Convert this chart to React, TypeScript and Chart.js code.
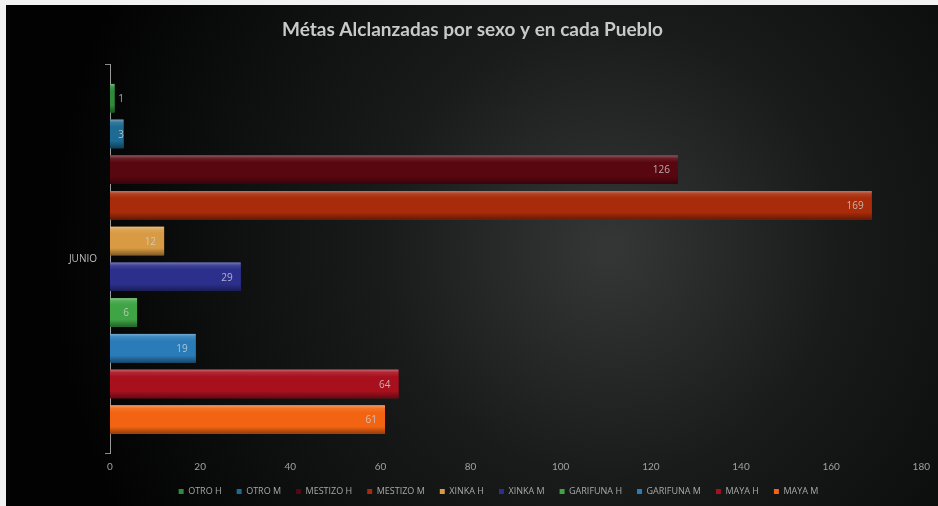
import React, { useEffect, useRef } from "react";
import { Chart, registerables } from "chart.js";

Chart.register(...registerables);

const titleText = "Métas Alclanzadas por sexo y en cada Pueblo";
const categories = ["JUNIO"];
const seriesNames = [
  "OTRO H",
  "OTRO M",
  "MESTIZO H",
  "MESTIZO M",
  "XINKA H",
  "XINKA M",
  "GARIFUNA H",
  "GARIFUNA M",
  "MAYA H",
  "MAYA M",
];
const seriesValues = [1, 3, 126, 169, 12, 29, 6, 19, 64, 61];
const seriesColors = [
  "#2f8a3a",
  "#1d6a92",
  "#58060f",
  "#a82c0a",
  "#d89a42",
  "#2c308c",
  "#3ea444",
  "#2a7cb8",
  "#a8101e",
  "#f26412",
];
const xMin = 0;
const xMax = 180;
const xStep = 20;

function shade(hex: string, amt: number): string {
  const n = parseInt(hex.slice(1), 16);
  let r = (n >> 16) & 255;
  let g = (n >> 8) & 255;
  let b = n & 255;
  if (amt >= 0) {
    r = Math.round(r + (255 - r) * amt);
    g = Math.round(g + (255 - g) * amt);
    b = Math.round(b + (255 - b) * amt);
  } else {
    r = Math.round(r * (1 + amt));
    g = Math.round(g * (1 + amt));
    b = Math.round(b * (1 + amt));
  }
  return `rgb(${r},${g},${b})`;
}

const backgroundPlugin = {
  id: "bgPlugin",
  afterLayout(chart: any) {
    if (chart.legend) {
      chart.legend.left += 26;
      chart.legend.right += 26;
    }
  },
  beforeDraw(chart: any) {
    const { ctx, width, height } = chart;
    ctx.save();
    ctx.fillStyle = "#f2f2f2";
    ctx.fillRect(0, 0, width, height);
    const g = ctx.createRadialGradient(610, 250, 10, 610, 250, 560);
    g.addColorStop(0, "#333635");
    g.addColorStop(0.4, "#191b1b");
    g.addColorStop(1, "#020202");
    ctx.fillStyle = g;
    ctx.fillRect(6, 5, width - 6, height - 5);
    ctx.restore();
  },
};

const barShinePlugin = {
  id: "barShine",
  afterDatasetsDraw(chart: any) {
    const { ctx } = chart;
    ctx.save();
    chart.data.datasets.forEach((ds: any, di: number) => {
      const meta = chart.getDatasetMeta(di);
      if (meta.hidden) return;
      meta.data.forEach((el: any) => {
        const h = el.height;
        const top = el.y - h / 2;
        const left = Math.min(el.base, el.x);
        const w = Math.abs(el.x - el.base);
        const base = seriesColors[di];
        const g = ctx.createLinearGradient(0, top, 0, top + h);
        g.addColorStop(0, shade(base, 0.35));
        g.addColorStop(0.1, shade(base, 0.1));
        g.addColorStop(0.25, base);
        g.addColorStop(0.75, base);
        g.addColorStop(1, shade(base, -0.4));
        ctx.fillStyle = g;
        ctx.fillRect(left, top, w, h);
      });
    });
    ctx.restore();
  },
};

const dataLabelPlugin = {
  id: "dataLabels",
  afterDatasetsDraw(chart: any) {
    const { ctx } = chart;
    ctx.save();
    ctx.font = "10px 'Open Sans', sans-serif";
    ctx.fillStyle = "rgba(210,210,210,0.8)";
    ctx.textAlign = "right";
    ctx.textBaseline = "middle";
    chart.data.datasets.forEach((ds: any, di: number) => {
      const meta = chart.getDatasetMeta(di);
      meta.data.forEach((el: any, i: number) => {
        const v = ds.data[i];
        const x = Math.max(el.x - 8, el.base + 14);
        ctx.fillText(String(v), x, el.y + 1);
      });
    });
    ctx.restore();
  },
};

export default function App() {
  const canvasRef = useRef<HTMLCanvasElement | null>(null);

  useEffect(() => {
    document.body.style.margin = "0";
    const canvas = canvasRef.current;
    if (!canvas) return;
    const chart = new Chart(canvas, {
      type: "bar",
      data: {
        labels: categories,
        datasets: seriesNames.map((name, i) => ({
          label: name,
          data: [seriesValues[i]],
          backgroundColor: seriesColors[i],
          borderWidth: 0,
          barPercentage: 0.8,
          categoryPercentage: 0.92,
        })),
      },
      options: {
        indexAxis: "y",
        animation: false,
        responsive: true,
        maintainAspectRatio: false,
        layout: { padding: { left: 10, right: 3, top: 0, bottom: 0 } },
        plugins: {
          title: {
            display: true,
            text: titleText,
            color: "#c9c9c9",
            font: { family: "Lato, 'Open Sans', sans-serif", size: 19, weight: "bold" },
            padding: { top: 18, bottom: 24 },
          },
          legend: {
            position: "bottom",
            labels: {
              color: "#a8a8a8",
              font: { family: "'Open Sans', sans-serif", size: 9 },
              boxWidth: 5,
              boxHeight: 5,
              padding: 15,
            },
          },
          tooltip: { enabled: false },
        },
        scales: {
          x: {
            min: xMin,
            max: xMax,
            ticks: {
              stepSize: xStep,
              color: "#a0a0a0",
              font: { family: "Lato, sans-serif", size: 10 },
              padding: 8,
            },
            grid: { display: false, drawTicks: false },
            border: { display: false },
            afterFit(scale: any) {
              scale.height = 19;
            },
          },
          y: {
            ticks: {
              color: "#bdbdbd",
              font: { family: "'Open Sans', sans-serif", size: 10 },
              padding: 8,
            },
            grid: {
              display: true,
              drawOnChartArea: false,
              drawTicks: true,
              tickLength: 5,
              color: "#8a8a8a",
            },
            border: { display: true, color: "#9a9a9a" },
            afterFit(scale: any) {
              scale.width = 100;
            },
          },
        },
      },
      plugins: [backgroundPlugin, barShinePlugin, dataLabelPlugin],
    });
    return () => chart.destroy();
  }, []);

  return (
    <div style={{ position: "fixed", left: 0, top: 0, width: 938, height: 506 }}>
      <canvas ref={canvasRef} />
    </div>
  );
}
